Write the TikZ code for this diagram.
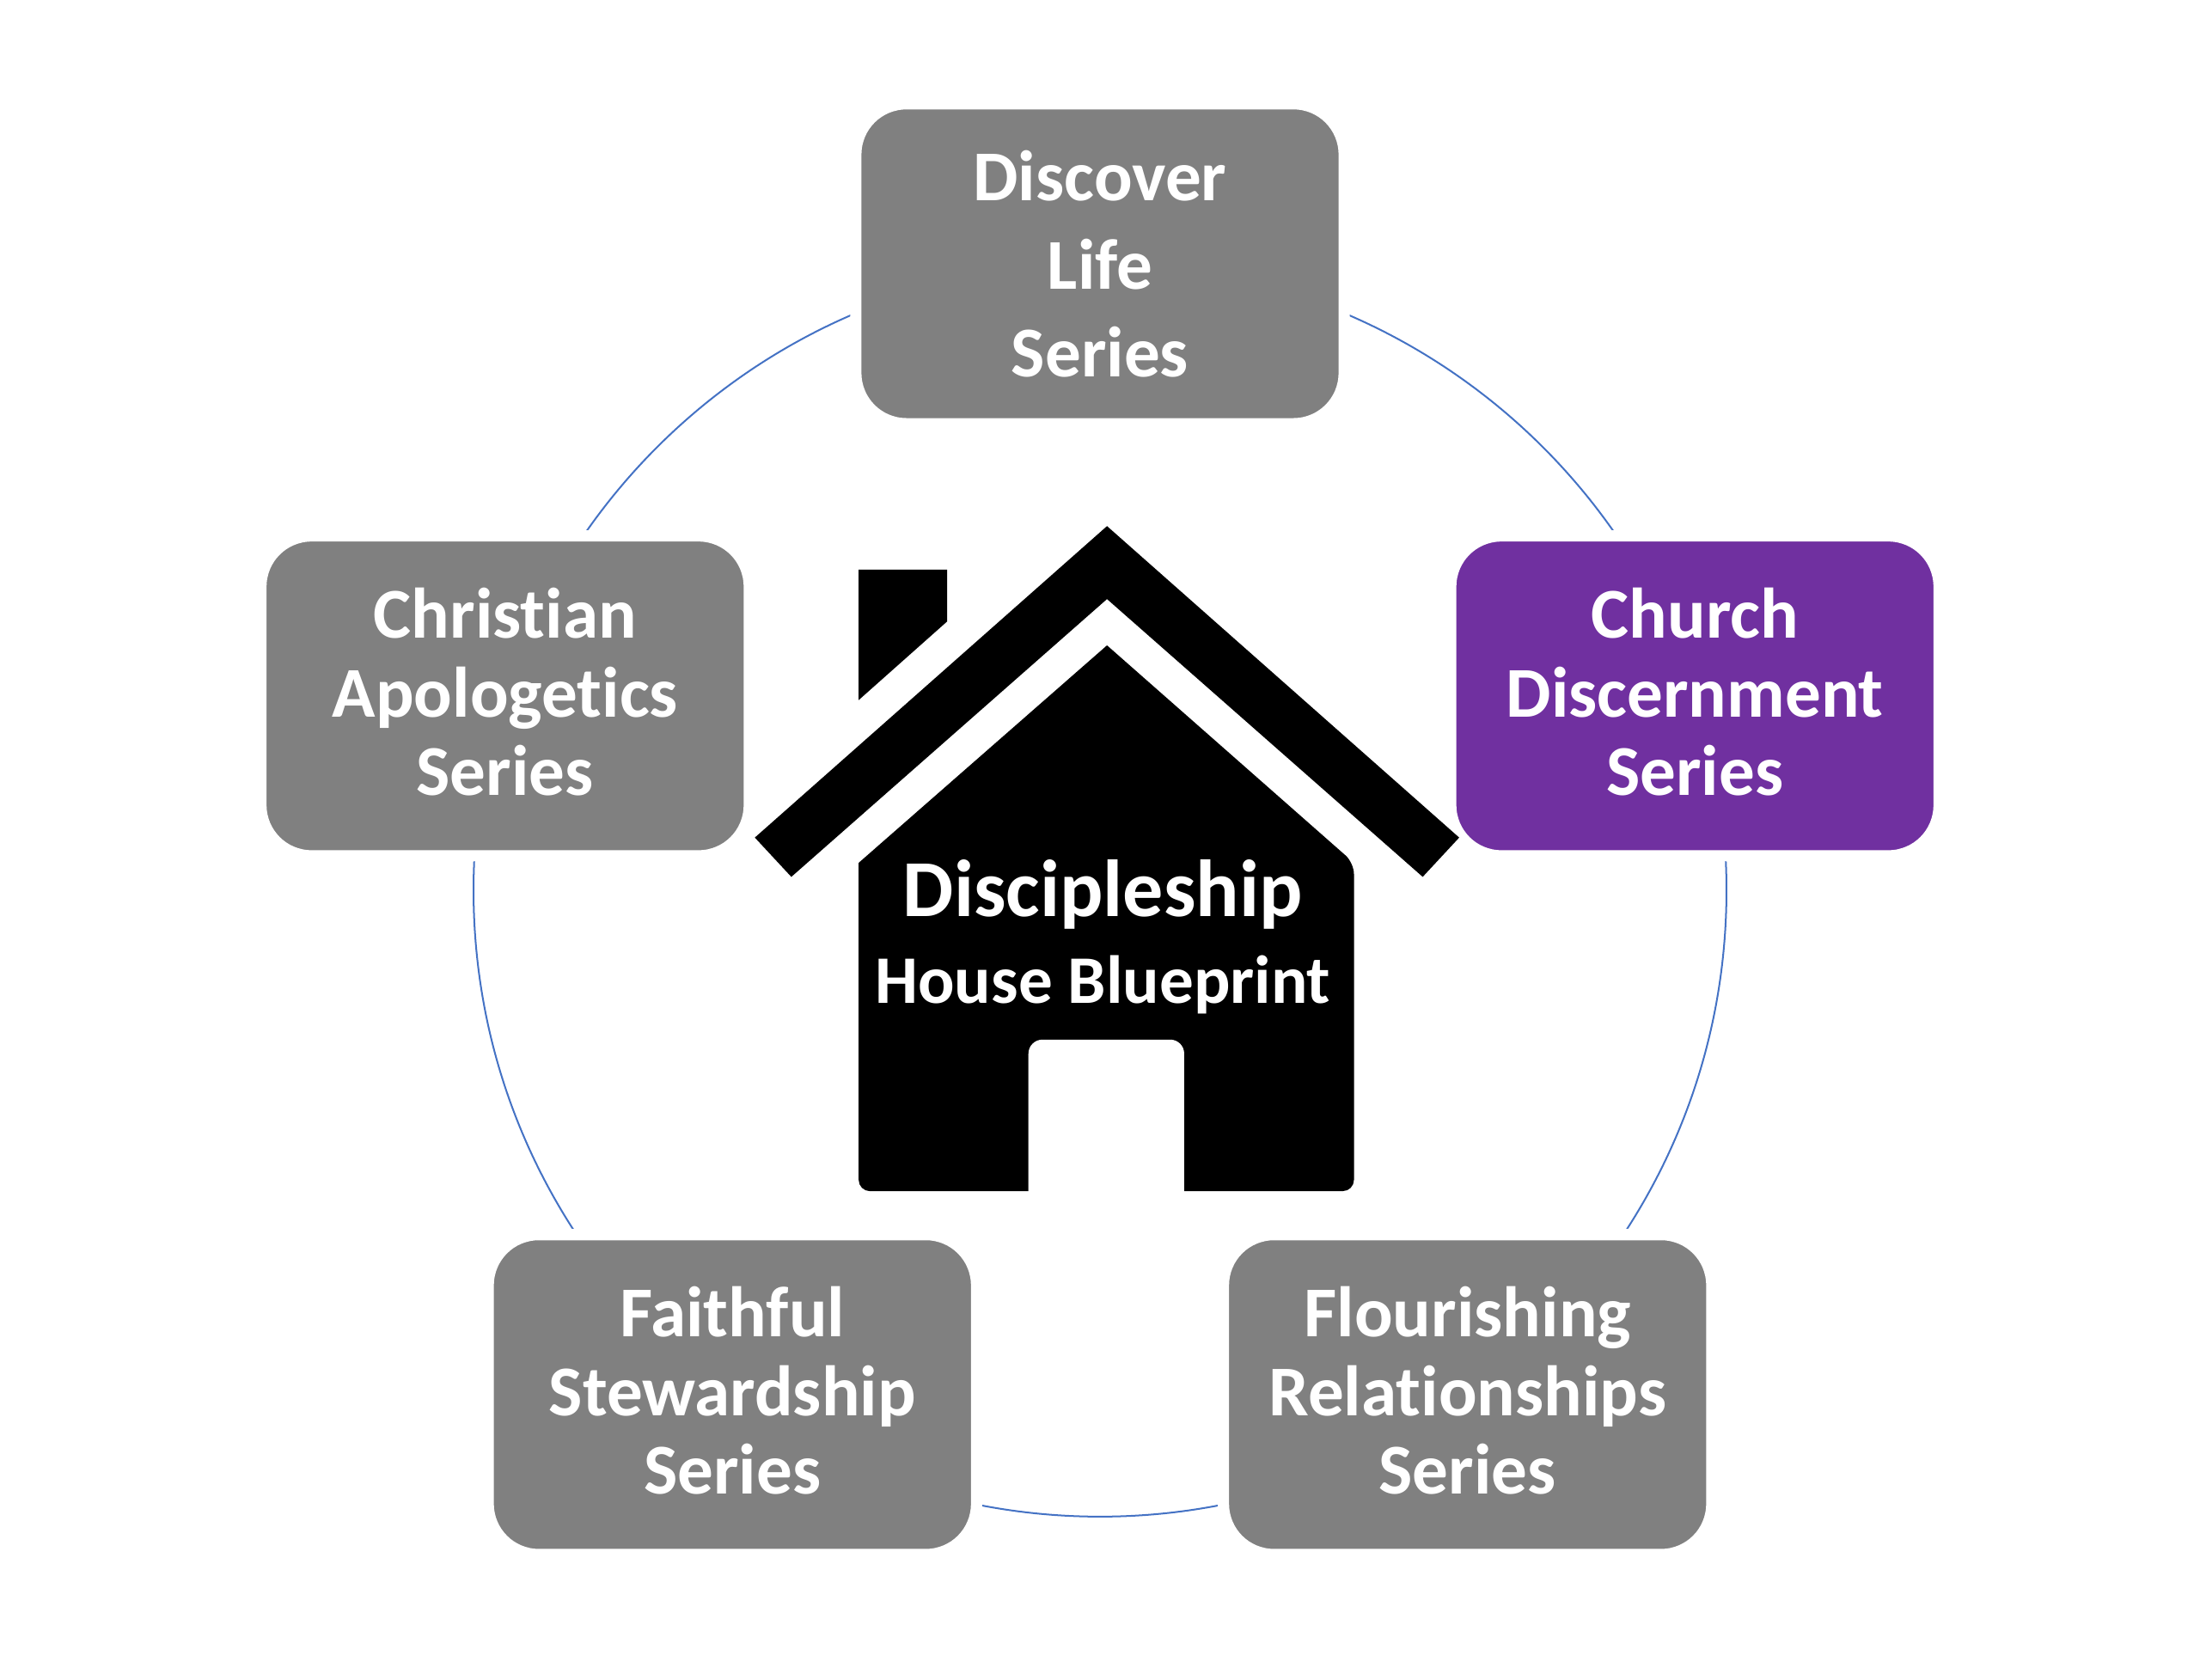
\documentclass[tikz,border=0pt]{standalone}
\usepackage{fontspec}
\setmainfont{Carlito}[Ligatures=NoCommon]
\usetikzlibrary{positioning}
\definecolor{seriesgray}{RGB}{128,128,128}
\definecolor{seriespurple}{RGB}{112,48,160}
\definecolor{ringblue}{RGB}{68,114,196}

\begin{document}
\begin{tikzpicture}[x=0.1mm,y=-0.1mm,
    series/.style={rectangle,rounded corners=3.6mm,fill=seriesgray,draw=white,line width=0.8mm,
      minimum width=34.8mm,minimum height=22.8mm,inner sep=0pt,align=center,text=white,
      text depth=0.6mm,font=\fontsize{14.5pt}{15.9pt}\selectfont\bfseries},
    ring/.style={draw=ringblue,line width=0.35pt}
  ]
  \useasboundingbox (0,0) rectangle (1568,1197.4);
  \coordinate (hub) at (784,634.5);
  \draw[ring] (hub) circle[radius=446.5];
  % the five series
  \node[series,text depth=0pt,font=\fontsize{14.5pt}{17.8pt}\selectfont\bfseries] (discover) at (784,188) {Discover\\Life\\Series};
  \node[series,fill=seriespurple] (church) at (1208,496) {Church\\Discernment\\Series};
  \node[series] (flourish) at (1046,994) {Flourishing\\Relationships\\Series};
  \node[series] (faithful) at (522,994) {Faithful\\Stewardship\\Series};
  \node[series] (christian) at (360,496) {Christian\\Apologetics\\Series};
  % the house
  \fill (612,406) -- (675,406) -- (675,443) -- (612,499) -- cycle;
  \fill (789,375) -- (1040,597) -- (1014,625) -- (789,427) -- (564,625) -- (538,597) -- cycle;
  \fill[rounded corners=0.8mm] (612,615) -- (612,849) -- (965,849) -- (965,615) [sharp corners] -- (789,460) -- cycle;
  \fill[white,rounded corners=1mm] (733,862) -- (733,741) -- (844,741) -- (844,862) -- cycle;
  \node[anchor=base,text=white,font=\fontsize{16.4pt}{18pt}\selectfont\bfseries] (title) at (786,653) {Discipleship};
  \node[anchor=base,text=white,font=\fontsize{13.8pt}{16pt}\selectfont\bfseries] (subtitle) at (786,715) {House Blueprint};
\end{tikzpicture}
\end{document}
